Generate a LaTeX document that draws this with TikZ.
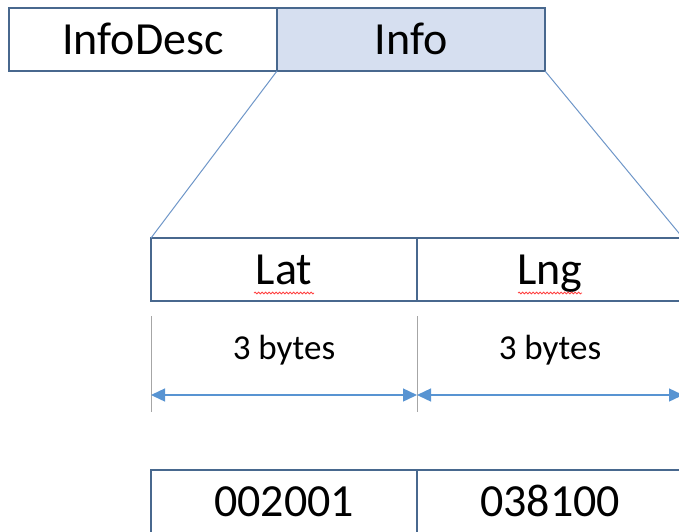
\documentclass[tikz,border=0pt]{standalone}
\usepackage{fontspec}
\setmainfont{Carlito}
\usetikzlibrary{positioning,arrows.meta,decorations.pathmorphing}
\definecolor{boxline}{RGB}{72,104,142}
\definecolor{infofill}{RGB}{214,223,240}
\definecolor{zoomline}{RGB}{110,150,200}
\definecolor{dimline}{RGB}{88,148,210}
\begin{document}
\begin{tikzpicture}[
    x=1pt, y=-1pt,
    field/.style={rectangle, draw=boxline, line width=2.4pt, minimum height=63pt, minimum width=268pt, inner sep=0pt, outer sep=0pt, text height=30pt, text depth=0pt, text centered, font=\fontsize{46}{50}\selectfont},
    bytes/.style={font=\fontsize{35}{40}\selectfont},
    span/.style={{Triangle[length=14pt,width=13pt]}-{Triangle[length=14pt,width=13pt]}, dimline, line width=1.4pt},
    tick/.style={gray!70, line width=1pt},
    spell/.style={red!75, line width=0.8pt, decorate, decoration={snake, amplitude=0.9pt, segment length=3.5pt}}
]
\useasboundingbox (0,0) rectangle (679,531);

% top record
\node[field, anchor=north west] (desc) at (9,8) {InfoDesc};
\node[field, fill=infofill, right=0pt of desc] (info) {Info};

% expanded fields
\node[field, minimum width=266pt, anchor=north west] (lat) at (151,238) {Lat};
\node[field, minimum width=266pt, right=0pt of lat] (lng) {Lng};
\draw[spell] ([xshift=-30pt, yshift=-23.5pt]lat.center) -- ++(60,0);
\draw[spell] ([xshift=-32pt, yshift=-23.5pt]lng.center) -- ++(64,0);

\draw[zoomline, line width=1pt] (info.south west) -- (lat.north west);
\draw[zoomline, line width=1pt] (info.south east) -- (lng.north east);

% sizes
\draw[tick] ([yshift=-15pt]lat.south west) -- ++(0,96);
\draw[tick] ([yshift=-15pt]lat.south east) -- ++(0,96);
\draw[tick] ([yshift=-15pt]lng.south east) -- ++(0,96);
\node[bytes] (latlen) at (284,350) {3 bytes};
\node[bytes] (lnglen) at (550,350) {3 bytes};

\coordinate (s0) at (lat.south west |- 0,395);
\coordinate (s1) at (lat.south east |- 0,395);
\coordinate (s2) at (lng.south east |- 0,395);
\draw[span] (s0) -- (s1);
\draw[span] (s1) -- (s2);

% values
\node[field, minimum width=266pt, below=169pt of lat] (latval) {002001};
\node[field, minimum width=266pt, right=0pt of latval] (lngval) {038100};
\end{tikzpicture}
\end{document}
